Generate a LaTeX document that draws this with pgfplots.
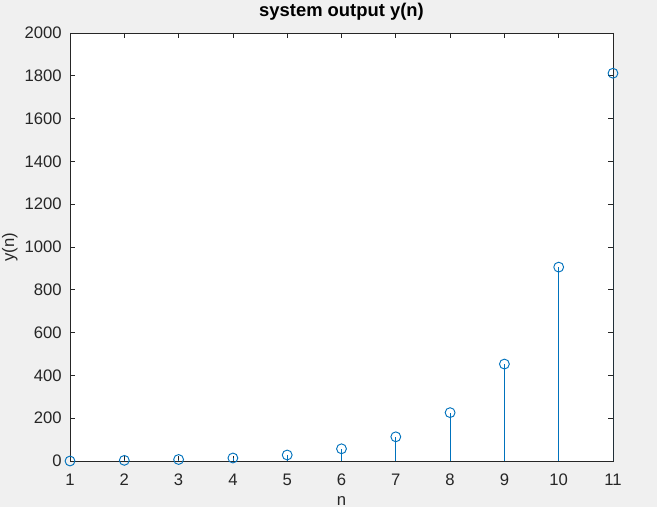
\documentclass[border=0pt]{standalone}
\usepackage{pgfplots}
\pgfplotsset{compat=1.18}
\usepackage{fontspec}
\setmainfont{Liberation Sans}
\definecolor{mlblue}{RGB}{0,114,189}
\definecolor{mlgray}{RGB}{240,240,240}
\definecolor{mlaxis}{RGB}{38,38,38}
\begin{document}
\begin{tikzpicture}[x=0.75pt,y=0.75pt]
\fill[mlgray] (-70,-46) rectangle (587,461);
\useasboundingbox (-70,-46) rectangle (587,461);
\begin{axis}[
  at={(0,0)}, anchor=south west,
  scale only axis, width=407.25pt, height=321pt,
  xmin=1, xmax=11, ymin=0, ymax=2000,
  xtick={1,...,11}, ytick={0,200,...,2000},
  axis background/.style={fill=white},
  axis line style={mlaxis, line width=0.5pt},
  tick style={mlaxis, line width=0.5pt},
  major tick length=4pt,
  tick align=inside,
  font=\fontsize{12.5}{15}\selectfont,
  ticklabel style={text=mlaxis},
  /pgf/number format/assume math mode=true,
  scaled y ticks=false,
  yticklabel style={/pgf/number format/1000 sep={}, anchor=east, inner sep=0pt, xshift=-6pt},
  xticklabel style={anchor=base, inner sep=0pt, yshift=-18pt},
  xlabel={n}, ylabel={y(n)},
  xlabel style={at={(axis description cs:0.5,-0.104)}, anchor=base, inner sep=0pt, text=mlaxis},
  ylabel style={at={(axis description cs:-0.111,0.5)}, anchor=center, inner sep=0pt, text=mlaxis},
  title={\bfseries system output y(n)},
  title style={at={(axis description cs:0.5,1.0187)}, anchor=base, inner sep=0pt, font=\fontsize{13.8}{16}\selectfont, text=black},
]
\addplot[ycomb, mlblue, line width=0.6pt, mark=o, mark size=3.7pt, mark options={mlblue, line width=0.7pt}]
coordinates {(1,0) (2,3) (3,7) (4,14) (5,28) (6,57) (7,113) (8,226) (9,453) (10,906) (11,1812)};
\end{axis}
\end{tikzpicture}
\end{document}
